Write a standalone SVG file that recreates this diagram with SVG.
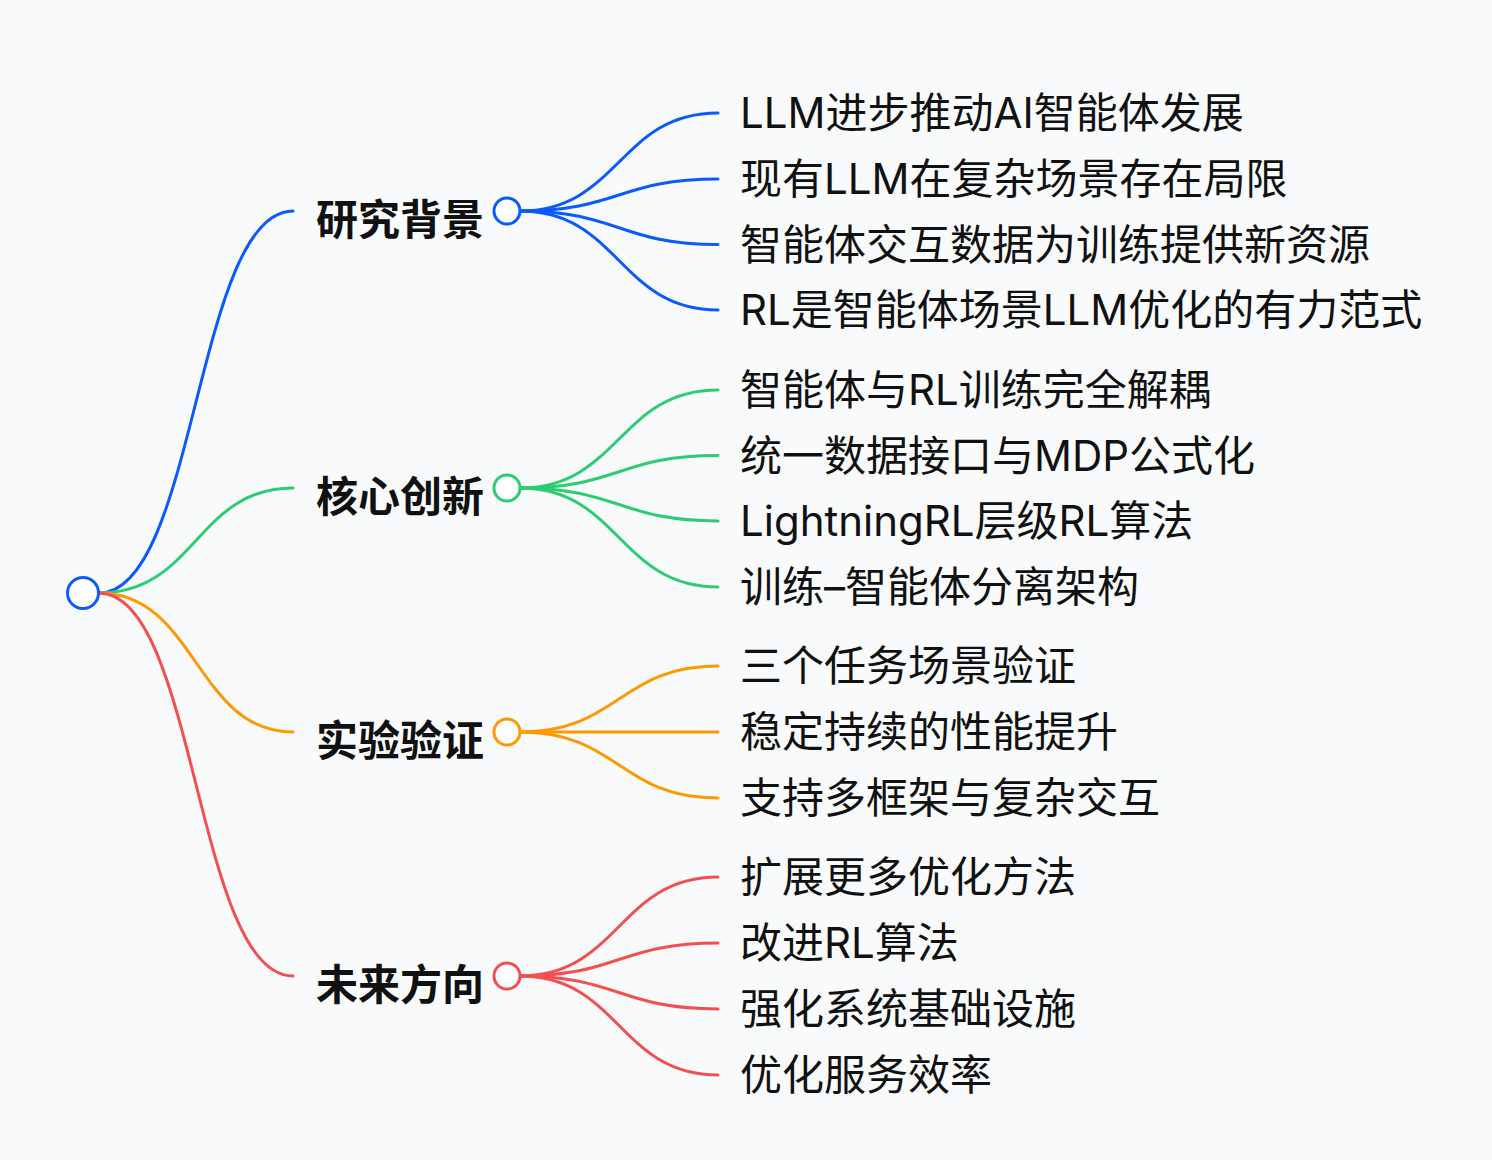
<svg xmlns="http://www.w3.org/2000/svg" width="1492" height="1160" viewBox="0 0 1492 1160">
<style>
.bg{fill:#f8fafc}
.l{fill:none;stroke-width:3;stroke-linecap:round}
.b{stroke:#0a5bff}.g{stroke:#2ecc71}.o{stroke:#ff9900}.r{stroke:#f25050}
.c{fill:#ffffff;stroke-width:3}
.t{font-family:Inter,"Noto Sans CJK SC","Noto Sans",sans-serif;font-size:42px;fill:#111111}
.h{font-family:"Noto Sans CJK SC","Noto Sans",sans-serif;font-size:42px;font-weight:bold;fill:#111111}
</style>
<rect class="bg" x="0" y="0" width="1492" height="1160"/>
<g id="connectors">
<path class="l b" d="M99 593 C196 593 196 211 293 211"/>
<path class="l g" d="M99 593 C196 593 196 488 293 488"/>
<path class="l o" d="M99 593 C196 593 196 732 293 732"/>
<path class="l r" d="M99 593 C196 593 196 976 293 976"/>
<path class="l b" d="M520 211 C619 211 619 113 718 113"/>
<path class="l b" d="M520 211 C619 211 619 179 718 179"/>
<path class="l b" d="M520 211 C619 211 619 244.5 718 244.5"/>
<path class="l b" d="M520 211 C619 211 619 310 718 310"/>
<path class="l g" d="M520 488 C619 488 619 390 718 390"/>
<path class="l g" d="M520 488 C619 488 619 455.5 718 455.5"/>
<path class="l g" d="M520 488 C619 488 619 521 718 521"/>
<path class="l g" d="M520 488 C619 488 619 587 718 587"/>
<path class="l o" d="M520 732 C619 732 619 666 718 666"/>
<path class="l o" d="M520 732 L718 732"/>
<path class="l o" d="M520 732 C619 732 619 798 718 798"/>
<path class="l r" d="M520 976 C619 976 619 877 718 877"/>
<path class="l r" d="M520 976 C619 976 619 943 718 943"/>
<path class="l r" d="M520 976 C619 976 619 1009 718 1009"/>
<path class="l r" d="M520 976 C619 976 619 1075 718 1075"/>
</g>
<g id="root"><circle class="c b" cx="83" cy="593" r="15.5" stroke-width="3.5"/></g>
<g id="n1"><text class="h" x="316" y="235">研究背景</text><circle class="c b" cx="507" cy="211" r="13"/></g>
<g id="n2"><text class="h" x="316" y="512">核心创新</text><circle class="c g" cx="507" cy="488" r="13"/></g>
<g id="n3"><text class="h" x="316" y="756">实验验证</text><circle class="c o" cx="507" cy="732" r="13"/></g>
<g id="n4"><text class="h" x="316" y="1000">未来方向</text><circle class="c r" cx="507" cy="976" r="13"/></g>
<g id="n1-1"><text class="t" x="740" y="128">LLM进步推动AI智能体发展</text></g>
<g id="n1-2"><text class="t" x="740" y="194">现有LLM在复杂场景存在局限</text></g>
<g id="n1-3"><text class="t" x="740" y="259.5">智能体交互数据为训练提供新资源</text></g>
<g id="n1-4"><text class="t" x="740" y="325">RL是智能体场景LLM优化的有力范式</text></g>
<g id="n2-1"><text class="t" x="740" y="405">智能体与RL训练完全解耦</text></g>
<g id="n2-2"><text class="t" x="740" y="470.5">统一数据接口与MDP公式化</text></g>
<g id="n2-3"><text class="t" x="740" y="536">LightningRL层级RL算法</text></g>
<g id="n2-4"><text class="t" x="740" y="602">训练–智能体分离架构</text></g>
<g id="n3-1"><text class="t" x="740" y="681">三个任务场景验证</text></g>
<g id="n3-2"><text class="t" x="740" y="747">稳定持续的性能提升</text></g>
<g id="n3-3"><text class="t" x="740" y="813">支持多框架与复杂交互</text></g>
<g id="n4-1"><text class="t" x="740" y="892">扩展更多优化方法</text></g>
<g id="n4-2"><text class="t" x="740" y="958">改进RL算法</text></g>
<g id="n4-3"><text class="t" x="740" y="1024">强化系统基础设施</text></g>
<g id="n4-4"><text class="t" x="740" y="1090">优化服务效率</text></g>
</svg>
